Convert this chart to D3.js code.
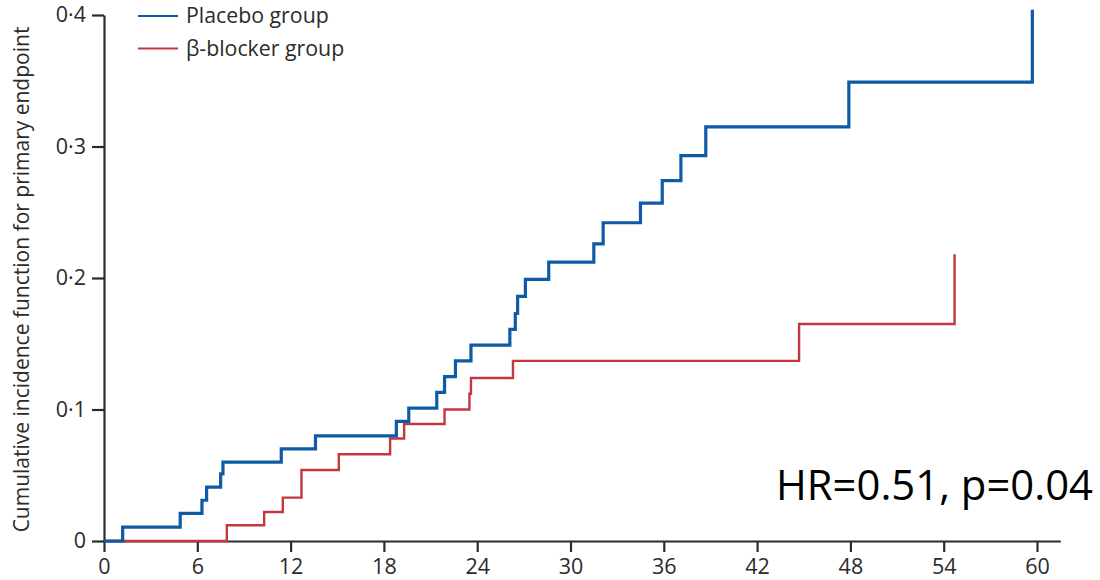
<!DOCTYPE html>
<html>
<head>
<meta charset="utf-8">
<script src="https://cdn.jsdelivr.net/npm/d3@7"></script>
<style>
  body { margin: 0; background: #fff; }
  .axis path, .axis line { stroke: #2b2b2b; stroke-width: 2.2; }
  .axis text { font-family: "Open Sans", sans-serif; font-size: 21.5px; fill: #2b2b2b; }
</style>
</head>
<body>
<div id="chart"></div>
<script>
// Dados (meses, incidência cumulativa)
const placeboTimes = [0, 1.2, 4.9, 6.3, 6.6, 7.5, 7.65, 11.4, 13.6, 18.8, 19.6, 21.4, 21.9, 22.6, 23.6, 26.1, 26.45, 26.6, 27.1, 28.6, 31.5, 32.1, 34.5, 35.9, 37.1, 38.7, 47.9, 59.7];
const placeboValues = [0, 0.0105, 0.021, 0.031, 0.041, 0.051, 0.060, 0.070, 0.080, 0.091, 0.101, 0.113, 0.125, 0.137, 0.149, 0.161, 0.173, 0.186, 0.199, 0.212, 0.226, 0.242, 0.257, 0.274, 0.293, 0.315, 0.349, 0.404];

const blockerTimes = [0, 7.9, 10.3, 11.5, 12.7, 15.1, 18.4, 19.3, 21.9, 23.5, 23.6, 26.3, 44.7, 54.7];
const blockerValues = [0, 0.012, 0.022, 0.033, 0.054, 0.066, 0.078, 0.089, 0.100, 0.112, 0.124, 0.137, 0.165, 0.218];

const xTicks = [0, 6, 12, 18, 24, 30, 36, 42, 48, 54, 60];
const yTicks = [0, 0.1, 0.2, 0.3, 0.4];
const seriesNames = ['Placebo group', 'β-blocker group'];
const seriesColors = ['#0f5aa6', '#c4373f'];

const W = 1100, H = 580;
const svg = d3.select('#chart').append('svg')
    .attr('width', W)
    .attr('height', H);

// Escalas
const x = d3.scaleLinear()
    .domain([0, 61.5])
    .range([104, 104 + 61.5 * 15.55]);

const y = d3.scaleLinear()
    .domain([0, 0.4])
    .range([541, 15]);

// Eixos
svg.append('g')
    .attr('class', 'axis')
    .attr('transform', `translate(0,${y(0)})`)
    .call(d3.axisBottom(x).tickValues(xTicks).tickSize(11).tickSizeOuter(0).tickPadding(5))
    .call(g => g.selectAll('text').attr('dy', '0.8em'));

svg.append('g')
    .attr('class', 'axis')
    .attr('transform', `translate(${x(0)},0)`)
    .call(d3.axisLeft(y).tickValues(yTicks).tickSize(12).tickSizeOuter(0).tickPadding(6)
        .tickFormat(d => d === 0 ? '0' : d3.format('.1f')(d).replace('.', '·')));

// Curvas
const line = d3.line()
    .x(d => x(d[0]))
    .y(d => y(d[1]))
    .curve(d3.curveStepAfter);

const blockerData = blockerTimes.map((t, i) => [t, blockerValues[i]]);
const placeboData = placeboTimes.map((t, i) => [t, placeboValues[i]]);

svg.append('path')
    .datum(blockerData)
    .attr('fill', 'none')
    .attr('stroke', seriesColors[1])
    .attr('stroke-width', 2.4)
    .attr('d', line);

svg.append('path')
    .datum(placeboData)
    .attr('fill', 'none')
    .attr('stroke', seriesColors[0])
    .attr('stroke-width', 3.2)
    .attr('d', line);

// Legenda
const legend = svg.append('g')
    .attr('transform', 'translate(138, 16)');

seriesNames.forEach((name, i) => {
    const lg = legend.append('g')
        .attr('transform', `translate(0, ${i * 32.5})`);

    lg.append('line')
        .attr('x1', 0)
        .attr('x2', 40)
        .attr('stroke', seriesColors[i])
        .attr('stroke-width', 2);

    lg.append('text')
        .attr('x', 48)
        .attr('dy', '.35em')
        .style('font-family', '"Open Sans", sans-serif')
        .style('font-size', '21.3px')
        .style('fill', '#2b2b2b')
        .text(name);
});

// Título do eixo y
svg.append('text')
    .attr('transform', `translate(22, ${(y(0) + 18) / 2}) rotate(-90)`)
    .attr('dy', '.35em')
    .style('text-anchor', 'middle')
    .style('font-family', '"Open Sans", sans-serif')
    .style('font-size', '21px')
    .style('fill', '#2b2b2b')
    .text('Cumulative incidence function for primary endpoint');

// Anotação
svg.append('text')
    .attr('x', 1093)
    .attr('y', 500)
    .style('text-anchor', 'end')
    .style('font-family', '"Open Sans", sans-serif')
    .style('font-size', '41.8px')
    .style('fill', '#000')
    .text('HR=0.51, p=0.04');
</script>
</body>
</html>
